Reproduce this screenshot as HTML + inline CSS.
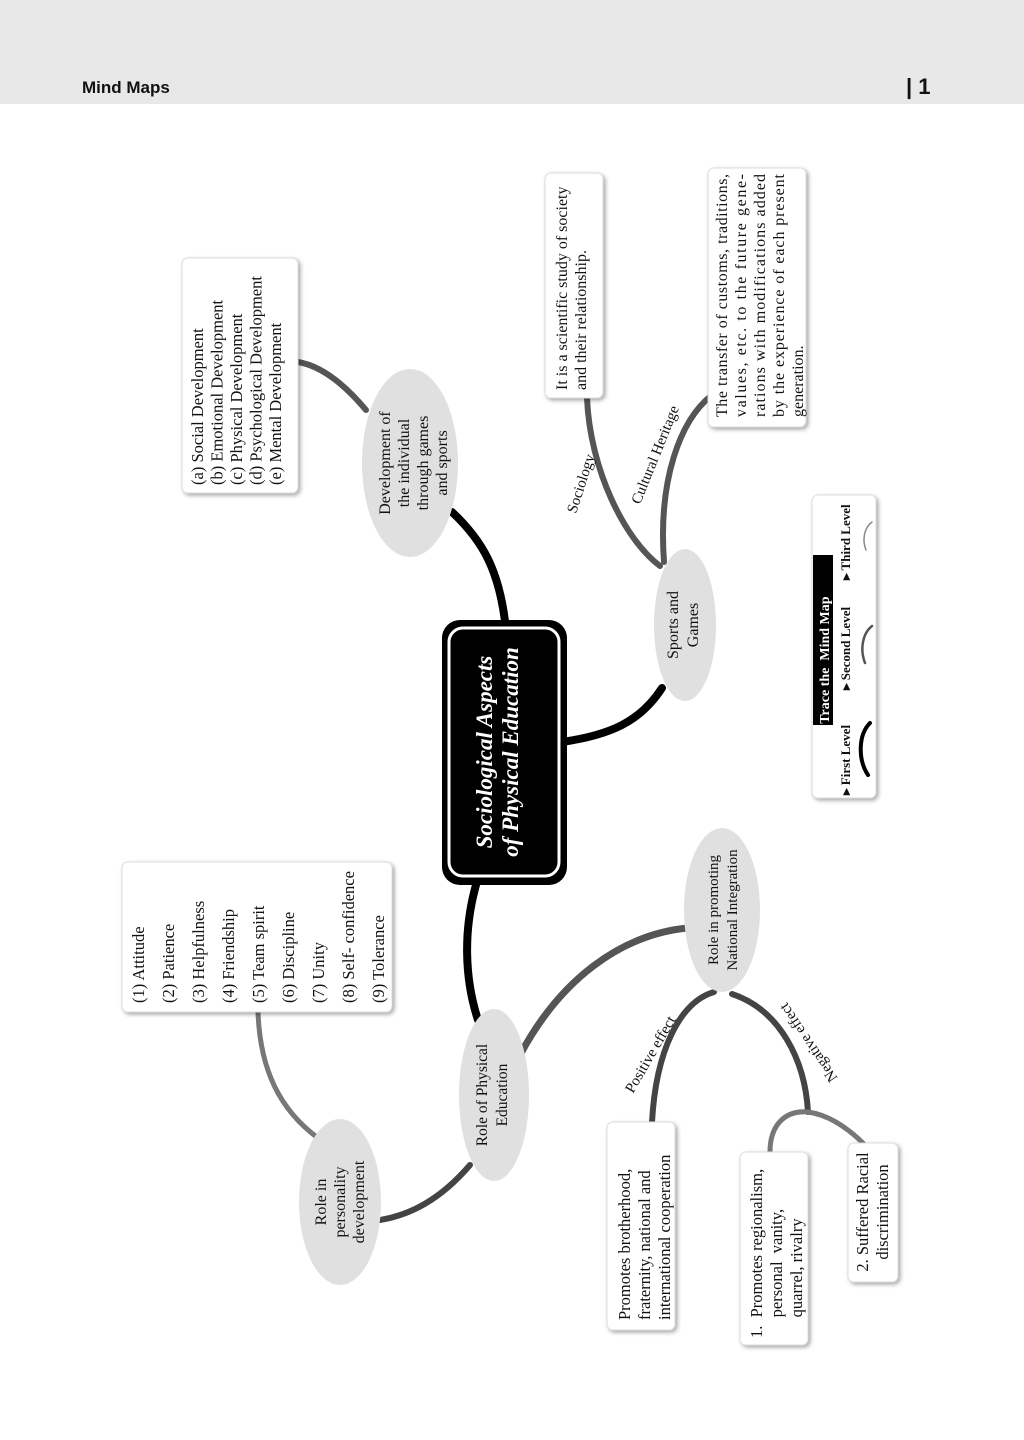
<!DOCTYPE html>
<html><head><meta charset="utf-8"><style>
body{margin:0;background:#fff;}
svg{display:block;}
text{font-family:"Liberation Serif",serif;fill:#111;}
</style></head><body>
<svg width="1024" height="1440" viewBox="0 0 1024 1440" xmlns="http://www.w3.org/2000/svg">
<defs>
<filter id="sh" x="-10%" y="-10%" width="130%" height="130%"><feDropShadow dx="2" dy="2" stdDeviation="2" flood-color="#000" flood-opacity="0.35"/></filter>
</defs>
<rect x="0" y="0" width="1024" height="104" fill="#e8e8e8"/>
<text x="82" y="93" style="font-family:'Liberation Sans',sans-serif;font-weight:bold;font-size:17px">Mind Maps</text>
<text x="906" y="94" style="font-family:'Liberation Sans',sans-serif;font-weight:bold;font-size:22px">|  1</text>

<g fill="none" stroke-linecap="round">
<path d="M506,630 C500,570 482,540 452,512" stroke="#000" stroke-width="8"/>
<path d="M562,742 C610,735 640,722 662,688" stroke="#000" stroke-width="8"/>
<path d="M478,878 C462,930 465,980 478,1020" stroke="#000" stroke-width="8"/>
<path d="M366,410 C345,385 322,366 298,362" stroke="#555" stroke-width="6"/>
<path d="M660,566 C625,540 590,470 587,398" stroke="#555" stroke-width="6"/>
<path d="M664,562 C658,480 680,420 712,395" stroke="#555" stroke-width="6"/>
<path d="M520,1055 C560,980 620,935 687,928" stroke="#555" stroke-width="7"/>
<path d="M470,1165 C440,1200 410,1215 380,1220" stroke="#444" stroke-width="6"/>
<path d="M318,1138 C280,1110 260,1070 258,1012" stroke="#777" stroke-width="5"/>
<path d="M714,992 C680,1002 656,1050 652,1122" stroke="#444" stroke-width="6"/>
<path d="M732,994 C780,1010 805,1060 808,1112" stroke="#444" stroke-width="6"/>
<path d="M808,1112 C785,1110 770,1125 770,1152" stroke="#777" stroke-width="5"/>
<path d="M808,1112 C830,1115 850,1130 865,1145" stroke="#777" stroke-width="5"/>
</g>

<rect x="442" y="620" width="125" height="265" rx="18" fill="#000"/>
<rect x="449" y="628" width="110" height="248" rx="14" fill="none" stroke="#fff" stroke-width="3"/>
<g transform="translate(492,752) rotate(-90)"><text text-anchor="middle" y="0" style="font-style:italic;font-weight:bold;font-size:23px;fill:#fff">Sociological Aspects</text><text text-anchor="middle" y="26" style="font-style:italic;font-weight:bold;font-size:23px;fill:#fff">of Physical Education</text></g>

<g fill="#e0e0e0">
<ellipse cx="410" cy="463" rx="48" ry="94"/>
<ellipse cx="685" cy="625" rx="31" ry="76"/>
<ellipse cx="722" cy="910" rx="38" ry="82"/>
<ellipse cx="494" cy="1095" rx="35" ry="86"/>
<ellipse cx="340" cy="1202" rx="41" ry="83"/>
</g>
<g style="font-size:16px" text-anchor="middle">
<g transform="translate(390,463) rotate(-90)"><text y="0">Development of</text><text y="19">the individual</text><text y="38">through games</text><text y="57">and sports</text></g>
<g transform="translate(678,625) rotate(-90)" style="font-family:'Liberation Sans',sans-serif;font-size:16px"><text y="0">Sports and</text><text y="20">Games</text></g>
<g transform="translate(718,910) rotate(-90)" style="font-family:'Liberation Sans',sans-serif;font-size:15px"><text y="0">Role in promoting</text><text y="19">National Integration</text></g>
<g transform="translate(487,1095) rotate(-90)" style="font-family:'Liberation Sans',sans-serif;font-size:15.5px"><text y="0">Role of Physical</text><text y="20">Education</text></g>
<g transform="translate(326,1202) rotate(-90)"><text y="0">Role in</text><text y="19">personality</text><text y="38">development</text></g>
</g>

<g fill="#fff" stroke="#ddd" stroke-width="1" filter="url(#sh)">
<rect x="182" y="258" width="116" height="235" rx="6"/>
<rect x="545" y="173" width="58" height="225" rx="6"/>
<rect x="708" y="168" width="98" height="259" rx="6"/>
<rect x="122" y="862" width="270" height="150" rx="6"/>
<rect x="607" y="1122" width="68" height="208" rx="6"/>
<rect x="740" y="1152" width="68" height="193" rx="6"/>
<rect x="848" y="1143" width="50" height="139" rx="6"/>
<rect x="812" y="495" width="64" height="303" rx="6"/>
</g>

<g style="font-size:16.5px" transform="translate(203,485) rotate(-90)">
<text y="0">(a) Social Development</text><text y="19.5">(b) Emotional Development</text><text y="39">(c) Physical Development</text><text y="58.5">(d) Psychological Development</text><text y="78">(e) Mental Development</text>
</g>
<g style="font-size:16px" transform="translate(567,390) rotate(-90)">
<text y="0">It is a scientific study of society</text><text y="19">and their relationship.</text>
</g>
<g style="font-size:16px" transform="translate(727,417) rotate(-90)">
<text y="0" textLength="243" lengthAdjust="spacing">The transfer of customs, traditions,</text>
<text y="19" textLength="243" lengthAdjust="spacing">values, etc. to the future gene-</text>
<text y="38" textLength="243" lengthAdjust="spacing">rations with modifications added</text>
<text y="57" textLength="243" lengthAdjust="spacing">by the experience of each present</text>
<text y="76">generation.</text>
</g>
<g style="font-size:16.5px" transform="translate(144,1003) rotate(-90)">
<text y="0">(1)  Attitude</text><text y="30">(2)  Patience</text><text y="60">(3)  Helpfulness</text><text y="90">(4)  Friendship</text><text y="120">(5)  Team spirit</text><text y="150">(6)  Discipline</text><text y="180">(7)  Unity</text><text y="210">(8)  Self- confidence</text><text y="240">(9)  Tolerance</text>
</g>
<g style="font-size:16.5px" transform="translate(630,1320) rotate(-90)">
<text y="0">Promotes brotherhood,</text><text y="20">fraternity, national and</text><text y="40">international cooperation</text>
</g>
<g style="font-size:16.5px" transform="translate(762,1338) rotate(-90)">
<text y="0" xml:space="preserve">1.  Promotes regionalism,</text><text y="20" xml:space="preserve">     personal  vanity,</text><text y="40" xml:space="preserve">     quarrel, rivalry</text>
</g>
<g style="font-size:16.5px" text-anchor="middle" transform="translate(868,1212) rotate(-90)">
<text y="0">2. Suffered Racial</text><text y="20">discrimination</text>
</g>

<text transform="translate(576,514) rotate(-72)" style="font-size:15px">Sociology</text>
<text transform="translate(640,505) rotate(-68)" style="font-size:15px">Cultural Heritage</text>
<text transform="translate(633,1094) rotate(-60)" style="font-size:15px">Positive effect</text>
<text transform="translate(838,1078) rotate(-124)" style="font-size:15px">Negative effect</text>

<rect x="813" y="555" width="20" height="170" fill="#000"/>
<text transform="translate(829,727) rotate(-90)" style="font-size:14px;font-weight:bold;fill:#fff" xml:space="preserve"> Trace the  Mind Map</text>
<g style="font-size:13px;font-weight:bold" transform="rotate(-90)">
<text x="-795" y="850">▸ First Level</text>
<text x="-690" y="850">▸ Second Level</text>
<text x="-580" y="850">▸ Third Level</text>
</g>
<g fill="none" stroke-linecap="round">
<path d="M870,723 C858,735 858,760 868,775" stroke="#000" stroke-width="4"/>
<path d="M872,626 C862,634 860,650 865,663" stroke="#555" stroke-width="2.5"/>
<path d="M872,522 C864,528 862,540 866,550" stroke="#888" stroke-width="1.5"/>
</g>
</svg>
</body></html>
